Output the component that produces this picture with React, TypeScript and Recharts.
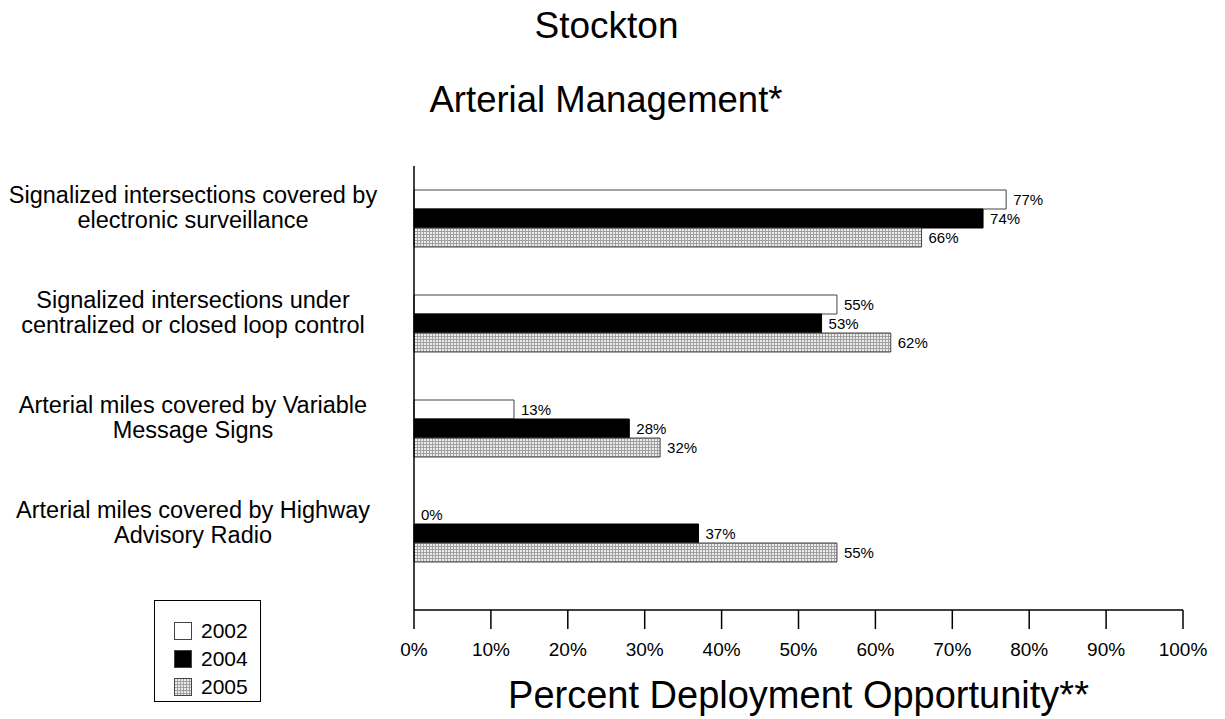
import React from 'react';
import { BarChart, Bar, XAxis, YAxis, LabelList } from 'recharts';

const FONT = '"Liberation Sans", Arial, Helvetica, sans-serif';

const categories = [
  'Signalized intersections covered by\nelectronic surveillance',
  'Signalized intersections under\ncentralized or closed loop control',
  'Arterial miles covered by Variable\nMessage Signs',
  'Arterial miles covered by Highway\nAdvisory Radio',
];
const values2002 = [77, 55, 13, 0];
const values2004 = [74, 53, 28, 37];
const values2005 = [66, 62, 32, 55];
const xTicks = [0, 10, 20, 30, 40, 50, 60, 70, 80, 90, 100];
const years = ['2002', '2004', '2005'];

const data = categories.map((name, i) => ({
  name,
  y2002: values2002[i],
  y2004: values2004[i],
  y2005: values2005[i],
}));

const CategoryTick = ({ y, payload }: any) => {
  const lines = String(payload.value).split('\n');
  return (
    <text x={193} y={y - 15.5} textAnchor="middle" fontSize={23.5} fontFamily={FONT} fill="#000">
      {lines.map((l, i) => (
        <tspan key={i} x={193} dy={i === 0 ? 0 : 25}>{l}</tspan>
      ))}
    </text>
  );
};

const pct = (v: any) => `${v}%`;

const ValueLabel = ({ x, y, width, height, value }: any) => (
  <text
    x={Number(x) + Number(width || 0) + 7}
    y={Number(y) + Number(height) / 2}
    dy="0.35em"
    fontSize={15}
    fontFamily={FONT}
    fill="#000"
  >
    {pct(value)}
  </text>
);

// recharts skips zero-length bars, so the 2002 "0%" is placed from the 2004 bar just below it
const ZeroLabelAbove = ({ x, y, height, value }: any) => {
  if (value !== 0) return null;
  return (
    <text x={Number(x) + 7} y={Number(y) - Number(height) / 2} dy="0.35em" fontSize={15} fontFamily={FONT} fill="#000">
      {pct(value)}
    </text>
  );
};

const swatchFill = ['#fff', '#000', 'url(#grid2005)'];

export default function App() {
  return (
    <div style={{ position: 'absolute', left: 0, top: 0, width: 1225, height: 719, background: '#fff', fontFamily: FONT }}>
      <BarChart
        width={1225}
        height={719}
        layout="vertical"
        data={data}
        barSize={19}
        barGap={0}
        margin={{ top: 166, right: 42, bottom: 79, left: 10 }}
      >
        <defs>
          <pattern id="grid2005" width="3" height="3" patternUnits="userSpaceOnUse">
            <rect width="3" height="3" fill="#ebebeb" />
            <rect width="3" height="1" fill="#a0a0a0" />
            <rect width="1" height="3" fill="#a0a0a0" />
          </pattern>
        </defs>
        <XAxis
          type="number"
          domain={[0, 100]}
          ticks={xTicks}
          tickFormatter={pct}
          tickSize={19}
          tickMargin={14}
          height={30}
          axisLine={{ stroke: '#000', strokeWidth: 1.5 }}
          tickLine={{ stroke: '#000', strokeWidth: 1.5 }}
          tick={{ fill: '#000', fontSize: 19, fontFamily: FONT }}
          interval={0}
        />
        <YAxis
          type="category"
          dataKey="name"
          width={404}
          padding={{ top: 0, bottom: 24 }}
          axisLine={{ stroke: '#000', strokeWidth: 1.5 }}
          tickLine={false}
          tick={<CategoryTick />}
          interval={0}
        />
        <Bar dataKey="y2002" fill="#fff" stroke="#444" strokeWidth={1} isAnimationActive={false}>
          <LabelList dataKey="y2002" content={<ValueLabel />} />
        </Bar>
        <Bar dataKey="y2004" fill="#000" stroke="#000" strokeWidth={1} isAnimationActive={false}>
          <LabelList dataKey="y2004" content={<ValueLabel />} />
          <LabelList dataKey="y2002" content={<ZeroLabelAbove />} />
        </Bar>
        <Bar dataKey="y2005" fill="url(#grid2005)" stroke="#444" strokeWidth={1} isAnimationActive={false}>
          <LabelList dataKey="y2005" content={<ValueLabel />} />
        </Bar>
      </BarChart>
      <svg width={1225} height={719} style={{ position: 'absolute', left: 0, top: 0, pointerEvents: 'none' }}>
        <text x={606.5} y={38} textAnchor="middle" fontSize={37} fontFamily={FONT} fill="#000">Stockton</text>
        <text x={606} y={112} textAnchor="middle" fontSize={36.5} fontFamily={FONT} fill="#000">Arterial Management*</text>
        <text x={798.5} y={708} textAnchor="middle" fontSize={38} fontFamily={FONT} fill="#000">Percent Deployment Opportunity**</text>
        <rect x={154.5} y={600.5} width={106} height={101} fill="none" stroke="#000" strokeWidth={1} />
        {years.map((yr, i) => (
          <g key={yr}>
            <rect x={174.5} y={622.5 + i * 28} width={17} height={17} fill={swatchFill[i]} stroke="#444" strokeWidth={1} />
            <text x={201} y={638 + i * 28} fontSize={21} fontFamily={FONT} fill="#000">{yr}</text>
          </g>
        ))}
      </svg>
    </div>
  );
}
